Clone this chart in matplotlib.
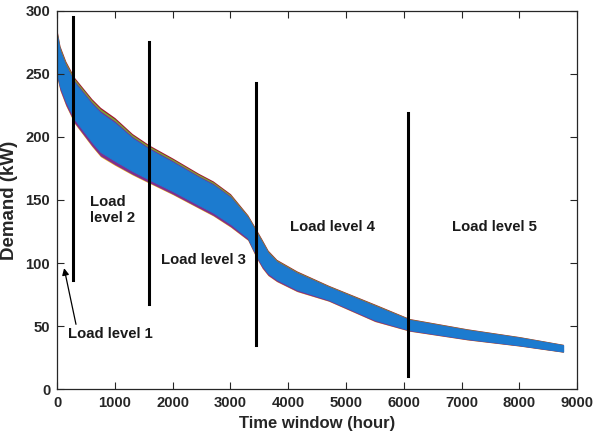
import matplotlib.pyplot as plt

plt.rcParams['font.family'] = ['Liberation Sans', 'DejaVu Sans']
plt.rcParams['font.weight'] = 'bold'

# load duration band (upper / lower edge of the curves)
hours = [0, 50, 150, 300, 600, 750, 1000, 1300, 1600, 2000, 2450, 2700,
         3000, 3300, 3450, 3550, 3650, 3800, 4150, 4700, 5500, 6100,
         7100, 8000, 8760]
upper = [280, 268, 256, 243, 226, 219, 211, 199, 190, 180, 168, 162,
         152, 136, 124, 116, 108, 101, 92, 81, 66, 55,
         47, 41, 35]
lower = [250, 240, 228, 214, 196, 188, 181, 173, 166, 157, 146, 140,
         131, 120, 106, 98, 92, 87, 79, 71, 55, 47,
         40, 35, 30]

# level boundaries: x, bottom, top
split_x = [282, 1592, 3443, 6078]
split_lo = [87, 68, 35, 10.5]
split_hi = [295, 275, 243, 219]

labels = ['Load\nlevel 2', 'Load level 3', 'Load level 4', 'Load level 5']
label_x = [571, 1793, 4031, 6834]
label_y = [142, 102.5, 128.6, 128.6]

fig = plt.figure(figsize=(5.95, 4.41), dpi=100)
ax = fig.add_axes([0.096, 0.117, 0.874, 0.859])

width = [u - l for u, l in zip(upper, lower)]
fringe = [('#A2142F', 0.14, 0.02), ('#EDB120', 0.02, 0.12),
          ('#77AC30', 0.10, 0.06), ('#7E2F8E', 0.05, 0.10)]
for col, up, dn in fringe:
    ax.fill_between(hours,
                    [u + up * w for u, w in zip(upper, width)],
                    [l - dn * w for l, w in zip(lower, width)],
                    color=col, lw=0)
ax.fill_between(hours, upper, lower, color='#1c7bcf', lw=0.6, edgecolor='#1c7bcf')

for x, lo, hi in zip(split_x, split_lo, split_hi):
    ax.plot([x, x], [lo, hi], color='k', lw=2.2)

for t, x, y in zip(labels, label_x, label_y):
    ax.text(x, y, t, fontsize=10.7, fontweight='bold', ha='left', va='center',
            color='#1a1a1a')

ax.annotate('Load level 1', xy=(121, 96), xytext=(190, 43.8),
            fontsize=10.7, fontweight='bold', ha='left', va='center',
            color='#1a1a1a',
            arrowprops=dict(arrowstyle='-|>', color='k', lw=0.9,
                            mutation_scale=10, shrinkA=0, shrinkB=0,
                            relpos=(0.1, 1.0)))

ax.set_xlim(0, 9000)
ax.set_ylim(0, 300)
ax.set_xticks(range(0, 9001, 1000))
ax.set_yticks(range(0, 301, 50))
ax.tick_params(direction='in', top=True, right=True, length=5,
               labelsize=10.7, color='#262626', labelcolor='#262626', pad=5)
for s in ax.spines.values():
    s.set_color('#262626')
    s.set_linewidth(0.9)
for lab in ax.get_xticklabels() + ax.get_yticklabels():
    lab.set_fontweight('bold')

ax.set_xlabel('Time window (hour)', fontsize=12, fontweight='bold', color='#262626')
ax.set_ylabel('Demand (kW)', fontsize=13.5, fontweight='bold', color='#262626',
              labelpad=5)

fig.savefig('out.png', dpi=100)
